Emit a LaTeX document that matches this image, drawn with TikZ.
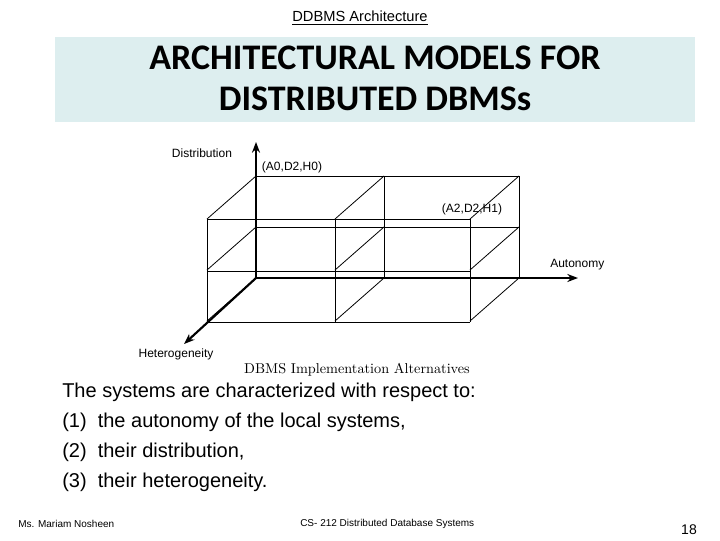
\documentclass[tikz,border=0pt]{standalone}
\usepackage{fontspec}
\setmainfont{Liberation Sans}
\newfontfamily\titlefont{Carlito}
\newfontfamily\capfont{Latin Modern Roman}
\usetikzlibrary{arrows.meta,positioning}
\definecolor{titlebg}{HTML}{DDEEEF}

\begin{document}
\begin{tikzpicture}[
  x=0.75pt, y=-0.75pt,
  axis/.style   = {-{Stealth[length=8pt,width=6pt]}, line width=1.6pt},
  grid/.style   = {line width=0.6pt},
  small/.style  = {font=\fontsize{9}{10}\selectfont, inner sep=0pt},
  body/.style   = {font=\fontsize{15}{22.5}\selectfont, align=left, anchor=north west, inner sep=0pt}
]
\useasboundingbox (0,0) rectangle (720,540);

% header
\node[font=\fontsize{11}{12}\selectfont] (head) at (360,18) {\underline{DDBMS Architecture}};
\fill[titlebg] (55,37) rectangle (695,122);
\node[font=\titlefont\bfseries\fontsize{27}{31}\selectfont, align=center] (title) at (375,78)
  {ARCHITECTURAL MODELS FOR\\DISTRIBUTED DBMSs};

% cube grid: back face
\draw[grid] (256,176) -- (519,176) (256,227) -- (519,227);
\foreach \x in {384,519} \draw[grid] (\x,176) -- (\x,278);
% front face
\foreach \y in {219,271,322} \draw[grid] (207,\y) -- (470,\y);
\foreach \x in {207,335,470} \draw[grid] (\x,219) -- (\x,322);
% depth edges
\foreach \x in {256,384,519}
  \foreach \y in {176,227,278}
    \draw[grid] (\x,\y) -- ++(-49,43);

% axes
\coordinate (o) at (256,278);
\coordinate (dtip) at (256,142);
\coordinate (atip) at (578,278);
\coordinate (htip) at (184,344);
\draw[axis] (o) -- (dtip);
\draw[axis] (o) -- (atip);
\draw[axis] (o) -- (htip);

\node[small] (dist) at (202,153) {Distribution};
\node[small, anchor=west] (auto) at (550,265) {Autonomy};
\node[small] (het)  at (176,354) {Heterogeneity};
\node[small] (p1)   at (292,167) {(A0,D2,H0)};
\node[small] (p2)   at (472,209) {(A2,D2,H1)};
\node[font=\capfont\fontsize{10.7}{12}\selectfont, inner sep=0pt] (cap) at (357,370) {DBMS Implementation Alternatives};

% body text
\node[body] (txt) at (62,383) {The systems are characterized with respect to:\\
(1)\ \ the autonomy of the local systems,\\
(2)\ \ their distribution,\\
(3)\ \ their heterogeneity.};

% footer
\node[font=\fontsize{7.5}{8}\selectfont, anchor=west, inner sep=0pt] (who) at (18,524) {Ms. Mariam Nosheen};
\node[font=\fontsize{7.5}{8}\selectfont, anchor=west, inner sep=0pt] (course) at (300,524) {CS- 212 Distributed Database Systems};
\node[font=\fontsize{10.5}{12}\selectfont] (page) at (689,530) {18};
\end{tikzpicture}
\end{document}
